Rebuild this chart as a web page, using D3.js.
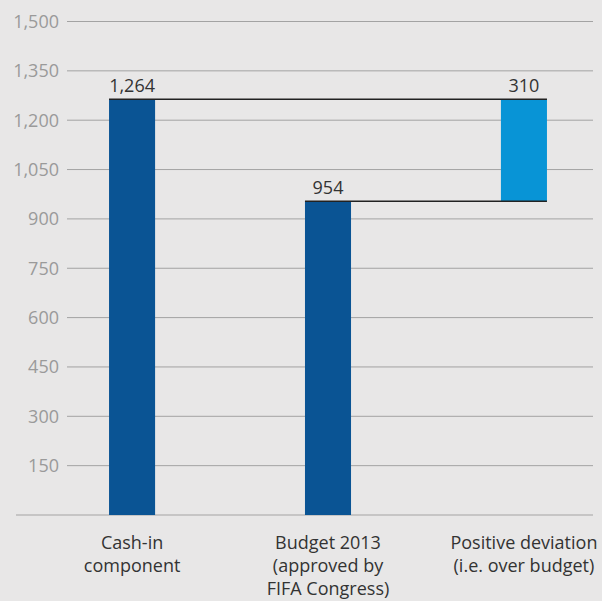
<!DOCTYPE html>
<html>
<head>
<meta charset="utf-8">
<script src="https://cdn.jsdelivr.net/npm/d3@7"></script>
<style>
  body { margin: 0; background: #e8e7e7; }
  svg { display: block; font-family: "Open Sans", sans-serif; }
</style>
</head>
<body>
<svg id="chart" width="602" height="601"></svg>
<script>
// data
const categories = ["Cash-in component", "Budget 2013 (approved by FIFA Congress)", "Positive deviation (i.e. over budget)"];
const categoryLines = [["Cash-in", "component"], ["Budget 2013", "(approved by", "FIFA Congress)"], ["Positive deviation", "(i.e. over budget)"]];
const barStart = [0, 0, 954];
const barEnd = [1264, 954, 1264];
const valueLabels = ["1,264", "954", "310"];
const yTicks = [150, 300, 450, 600, 750, 900, 1050, 1200, 1350, 1500];

const svg = d3.select("#chart");

const y = d3.scaleLinear()
    .domain([0, 1500])
    .range([515, 21.5]);

const x = d3.scaleBand()
    .domain(categories)
    .range([34, 622])
    .paddingInner(0.765)
    .paddingOuter(0.383);

// background
svg.append("rect")
    .attr("width", 602).attr("height", 601)
    .attr("fill", "#e8e7e7");

// gridlines
svg.append("g").selectAll("line")
    .data(yTicks)
    .enter().append("line")
    .attr("x1", 67).attr("x2", 593)
    .attr("y1", d => y(d)).attr("y2", d => y(d))
    .attr("stroke", "#a3a3a3")
    .attr("stroke-width", 1);

// y labels
svg.append("g").selectAll("text")
    .data(yTicks)
    .enter().append("text")
    .attr("x", 59)
    .attr("y", d => y(d))
    .attr("dy", "0.35em")
    .attr("text-anchor", "end")
    .attr("fill", "#9a9a9a")
    .attr("font-size", 18)
    .text(d => d3.format(",")(d));

// baseline
svg.append("line")
    .attr("x1", 16).attr("x2", 593)
    .attr("y1", y(0)).attr("y2", y(0))
    .attr("stroke", "#a3a3a3")
    .attr("stroke-width", 1.2);

// bars
svg.append("g").selectAll("rect")
    .data(categories)
    .enter().append("rect")
    .attr("x", d => x(d))
    .attr("width", x.bandwidth())
    .attr("y", (d, i) => y(barEnd[i]))
    .attr("height", (d, i) => y(barStart[i]) - y(barEnd[i]))
    .attr("fill", (d, i) => i === 2 ? "#0894d6" : "#0a5494");

// connector lines
const last = categories[categories.length - 1];
svg.append("line")
    .attr("x1", x(categories[0])).attr("x2", x(last) + x.bandwidth())
    .attr("y1", y(barEnd[0])).attr("y2", y(barEnd[0]))
    .attr("stroke", "#222").attr("stroke-width", 1.5);
svg.append("line")
    .attr("x1", x(categories[1])).attr("x2", x(last) + x.bandwidth())
    .attr("y1", y(barEnd[1])).attr("y2", y(barEnd[1]))
    .attr("stroke", "#222").attr("stroke-width", 1.5);

// value labels
svg.append("g").selectAll("text")
    .data(categories)
    .enter().append("text")
    .attr("x", d => x(d) + x.bandwidth() / 2)
    .attr("y", (d, i) => y(barEnd[i]) - 7)
    .attr("text-anchor", "middle")
    .attr("fill", "#333")
    .attr("font-size", 18)
    .text((d, i) => valueLabels[i]);

// category labels
const cat = svg.append("g").selectAll("text")
    .data(categories)
    .enter().append("text")
    .attr("text-anchor", "middle")
    .attr("fill", "#333")
    .attr("font-size", 18)
    .attr("x", d => x(d) + x.bandwidth() / 2)
    .attr("y", 549);
cat.selectAll("tspan")
    .data((d, i) => categoryLines[i])
    .enter().append("tspan")
    .attr("x", function () { return this.parentNode.getAttribute("x"); })
    .attr("dy", (d, i) => i === 0 ? 0 : 23)
    .text(d => d);
</script>
</body>
</html>
